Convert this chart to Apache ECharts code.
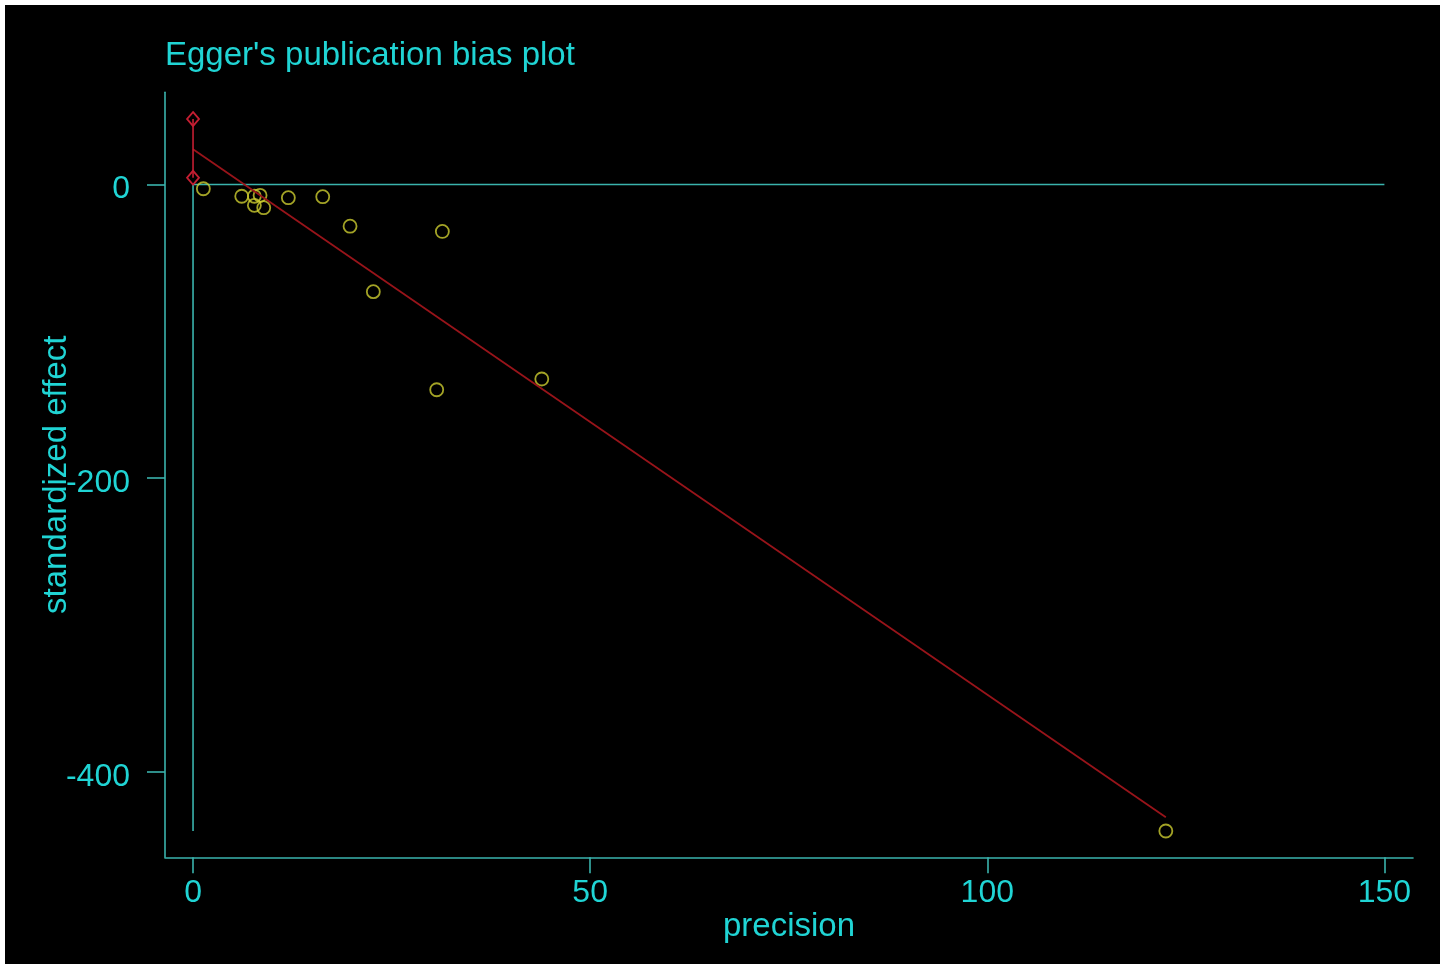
<!DOCTYPE html>
<html>
<head>
<meta charset="utf-8">
<script src="https://cdn.jsdelivr.net/npm/echarts@6/dist/echarts.min.js"></script>
<style>
  html, body { margin: 0; padding: 0; background: #ffffff; width: 1452px; height: 966px; overflow: hidden; }
  #chart { position: absolute; left: 5px; top: 5px; width: 1435px; height: 959px; background: #000000; }
</style>
</head>
<body>
<div id="chart"></div>
<script>
// ---- data ----
const precision = [1.30, 6.13, 7.72, 8.44, 7.72, 8.90, 12.0, 16.33, 19.77, 22.70, 30.68, 31.39, 43.91, 122.48];
const stdEffect = [-2.9, -8.0, -8.0, -7.4, -14.2, -15.8, -9.0, -8.3, -28.4, -73.0, -139.8, -32.0, -132.5, -440.4];
const fitX = [0, 122.48];
const fitY = [24.0, -431.0];
const ciX = [0, 0];
const ciY = [4.6, 44.6];
const zeroLineX = [0, 150];
const zeroLineY = [0, 0];
const vertLineX = [0, 0];
const vertLineY = [0, -440.4];
const xTicks = [0, 50, 100, 150];
const yTicks = [-400, -200, 0];
const xRange = [-3.53, 153.6];
const yRange = [-458.3, 62.8];

const TEXT = '#20d4d4';
const LINE = '#3ab3ad';
const FONT = '"Liberation Sans", Arial, sans-serif';

function pairs(xs, ys) { return xs.map((x, i) => [x, ys[i]]); }

const chart = echarts.init(document.getElementById('chart'), null, { renderer: 'canvas' });
chart.setOption({
  animation: false,
  backgroundColor: '#000000',
  title: {
    text: "Egger's publication bias plot",
    left: 160,
    top: 34,
    padding: 0,
    textStyle: { color: TEXT, fontFamily: FONT, fontSize: 33, fontWeight: 'normal' }
  },
  grid: { left: 160, right: 27, top: 87.3, bottom: 106.7, containLabel: false },
  xAxis: {
    type: 'value',
    min: xRange[0], max: xRange[1],
    name: 'precision',
    nameLocation: 'middle',
    nameGap: 53,
    nameMoveOverlap: false,
    nameTextStyle: { color: TEXT, fontFamily: FONT, fontSize: 33 },
    axisLine: { show: true, onZero: false, lineStyle: { color: LINE, width: 1.6 } },
    axisTick: { show: true, length: 16, customValues: xTicks, lineStyle: { color: LINE, width: 1.6 } },
    axisLabel: { show: true, customValues: xTicks, margin: 20, color: TEXT, fontFamily: FONT, fontSize: 32 },
    splitLine: { show: false }
  },
  yAxis: {
    type: 'value',
    min: yRange[0], max: yRange[1],
    name: 'standardized effect',
    nameLocation: 'middle',
    nameGap: 92,
    nameRotate: 90,
    nameMoveOverlap: false,
    nameTextStyle: { color: TEXT, fontFamily: FONT, fontSize: 33 },
    axisLine: { show: true, onZero: false, lineStyle: { color: LINE, width: 1.6 } },
    axisTick: { show: true, length: 18, customValues: yTicks, lineStyle: { color: LINE, width: 1.6 } },
    axisLabel: {
      show: true, customValues: yTicks, margin: 35, color: TEXT, fontFamily: FONT, fontSize: 32,
      formatter: '{v|{value}}',
      rich: { v: { color: TEXT, fontFamily: FONT, fontSize: 32, padding: [10, 0, 0, 0] } }
    },
    splitLine: { show: false }
  },
  series: [
    {
      type: 'line', data: pairs(zeroLineX, zeroLineY), symbol: 'none', silent: true,
      lineStyle: { color: LINE, width: 1.6 }, z: 1
    },
    {
      type: 'line', data: pairs(vertLineX, vertLineY), symbol: 'none', silent: true,
      lineStyle: { color: LINE, width: 1.6 }, z: 1
    },
    {
      type: 'scatter', data: pairs(precision, stdEffect), symbol: 'circle', symbolSize: 13,
      itemStyle: { color: 'rgba(0,0,0,0)', borderColor: '#cccc30', borderWidth: 1.8 }, z: 2
    },
    {
      type: 'line', data: pairs(fitX, fitY), symbol: 'none', silent: true,
      lineStyle: { color: '#98141a', width: 1.8 }, z: 3
    },
    {
      type: 'line', data: pairs(ciX, ciY), symbol: 'diamond', symbolSize: [12, 14], showAllSymbol: true,
      lineStyle: { color: '#c41e32', width: 1.6 },
      itemStyle: { color: 'rgba(0,0,0,0)', borderColor: '#c41e32', borderWidth: 1.8 }, z: 4
    }
  ]
});
</script>
</body>
</html>
